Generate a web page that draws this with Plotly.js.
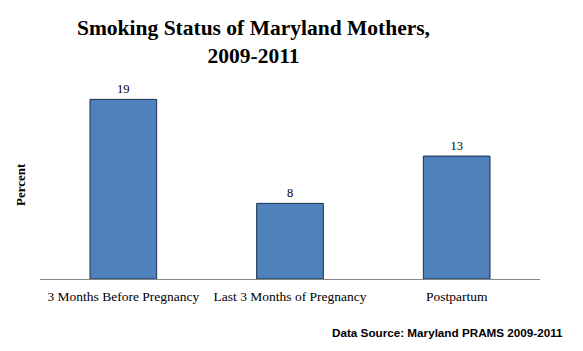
<!DOCTYPE html>
<html>
<head>
<meta charset="utf-8">
<script src="https://cdn.plot.ly/plotly-3.0.1.min.js"></script>
<style>html,body{margin:0;padding:0;background:#fff;}#chart{width:583px;height:351px;}</style>
</head>
<body>
<div id="chart"></div>
<script>
const categories = ["3 Months Before Pregnancy", "Last 3 Months of Pregnancy", "Postpartum"];
const percentValues = [19, 8, 13];
const valueLabels = ["19", "8", "13"];

const serif = "'Liberation Serif', 'Times New Roman', serif";

const trace = {
  type: "bar",
  x: categories,
  y: percentValues,
  text: valueLabels,
  textposition: "outside",
  cliponaxis: false,
  textfont: {family: serif, size: 12.5, color: "#000"},
  marker: {color: "#4F81BD", line: {color: "#1c2f48", width: 1}},
  hoverinfo: "none"
};

const layout = {
  width: 583,
  height: 351,
  margin: {l: 40, r: 43, t: 71, b: 72},
  paper_bgcolor: "#fff",
  plot_bgcolor: "#fff",
  bargap: 0.6,
  showlegend: false,
  xaxis: {
    showline: true, linecolor: "#888", linewidth: 1,
    ticks: "", showgrid: false, zeroline: false,
    ticklabelstandoff: 5,
    tickfont: {family: serif, size: 13.5, color: "#000"}
  },
  yaxis: {
    range: [0, 22], showgrid: false, zeroline: false, showline: false,
    showticklabels: false, ticks: ""
  },
  annotations: [
    {
      text: "<b>Smoking Status of Maryland Mothers,<br>2009-2011</b>",
      xref: "paper", yref: "paper",
      x: (253 - 40) / 500, y: (279 - 42) / 208,
      xanchor: "center", yanchor: "middle", showarrow: false,
      font: {family: serif, size: 21.5, color: "#000"}
    },
    {
      text: "<b>Percent</b>",
      xref: "paper", yref: "paper",
      x: (20 - 40) / 500, y: (279 - 185) / 208,
      xanchor: "center", yanchor: "middle", showarrow: false, textangle: -90,
      font: {family: serif, size: 13, color: "#000"}
    },
    {
      text: "<b>Data Source: Maryland PRAMS 2009-2011</b>",
      xref: "paper", yref: "paper",
      x: (565 - 40) / 500, y: (279 - 332) / 208,
      xanchor: "right", yanchor: "middle", showarrow: false,
      font: {family: "'Liberation Sans', Arial, sans-serif", size: 11.7, color: "#000"}
    }
  ]
};

Plotly.newPlot("chart", [trace], layout, {staticPlot: true, displayModeBar: false});
</script>
</body>
</html>
